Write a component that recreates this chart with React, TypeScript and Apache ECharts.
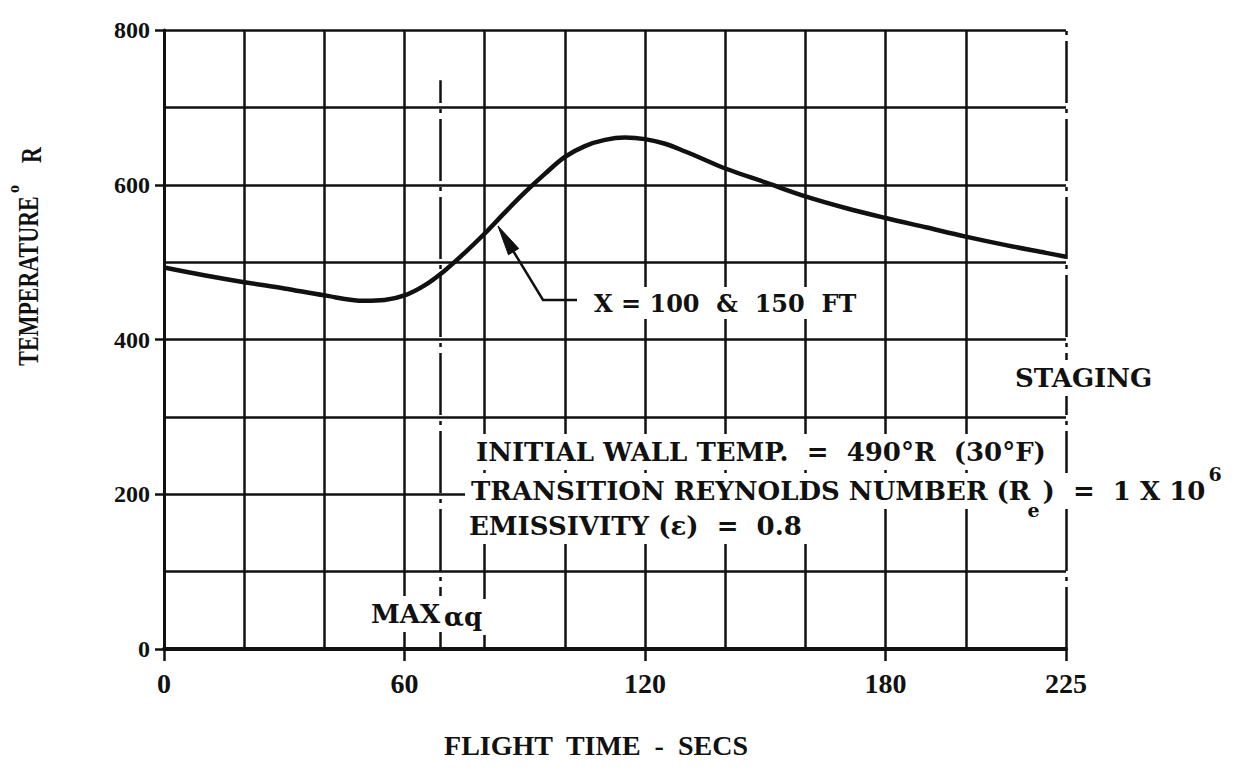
import React, { useEffect, useRef } from "react";
import * as echarts from "echarts";

// Flight time (s) and wall temperature (°R)
const timeSec = [0, 10, 20, 30, 40, 50, 55, 60, 65, 70, 75, 80, 85, 90, 95, 100, 105, 110, 115, 120, 125, 130, 135, 140, 150, 160, 170, 180, 190, 200, 210, 220, 225];
const tempR = [493, 483, 474, 466, 457, 450, 451, 457, 470, 489, 512, 537, 564, 590, 614, 636, 650, 658, 661, 659, 653, 643, 632, 621, 603, 585, 570, 557, 545, 533, 522, 512, 507];

// Axis tick labels
const xTickLabels = [0, 60, 120, 180, 225];
const yTickLabels = [0, 200, 400, 600, 800];

// Vertical grid lines drawn every 20 s from 0 to 200 (none at 220)
const xGridTimes = [0, 20, 40, 60, 80, 100, 120, 140, 160, 180, 200, 220];
const xGridShown = [true, true, true, true, true, true, true, true, true, true, true, false];

// Event lines: MAX αq and STAGING (time, top of line in °R)
const eventTimes = [69, 225];
const eventTops = [735, 800];

const INK = "#111";
const AX_FONT = "'Liberation Serif', 'Times New Roman', serif";
const NOTE_FONT = "'DejaVu Serif', serif";

function measure(text: string, size: number) {
  const c = document.createElement("canvas").getContext("2d");
  if (!c) return text.length * size * 0.7;
  c.font = `bold ${size}px 'DejaVu Serif'`;
  return c.measureText(text).width;
}

export default function App() {
  const ref = useRef<HTMLDivElement>(null);

  useEffect(() => {
    if (!ref.current) return;
    const chart = echarts.init(ref.current, null, { renderer: "svg" });

    const note = (text: string, x: number, y: number, size = 26, extra: any = {}) => ({
      type: "text",
      x,
      y,
      z: 10,
      silent: true,
      style: {
        text,
        fill: INK,
        font: `bold ${size}px ${NOTE_FONT}`,
        align: "left",
        verticalAlign: "middle",
        backgroundColor: "#fff",
        padding: [5, 6],
        ...extra,
      },
    });

    // Line 2 of the note block, with subscript / superscript pieces
    const l2x = 465;
    const p1 = "TRANSITION REYNOLDS NUMBER (R";
    const w1 = measure(p1, 26);
    const we = measure("e", 19);
    const p3 = ")  =  1 X 10";
    const w3 = measure(p3, 26);
    const eX = l2x + w1 + 3;
    const p3X = eX + we + 3;

    // Arrow from the "X = 100 & 150 FT" label to the curve
    const tip = [498, 226];
    const elbow = [543, 300];
    const dx = tip[0] - elbow[0];
    const dy = tip[1] - elbow[1];
    const len = Math.hypot(dx, dy);
    const ux = dx / len;
    const uy = dy / len;
    const headLen = 30;
    const headW = 6;
    const bx = tip[0] - ux * headLen;
    const by = tip[1] - uy * headLen;
    const px = -uy;
    const py = ux;

    const graphic: any[] = [
      // Y-axis title
      {
        type: "text", x: 28, y: 281, rotation: Math.PI / 2, scaleY: 1.3, silent: true,
        style: { text: "TEMPERATURE", fill: INK, font: `bold 22px ${AX_FONT}`, align: "center", verticalAlign: "middle" },
      },
      {
        type: "text", x: 13, y: 189, rotation: Math.PI / 2, silent: true,
        style: { text: "o", fill: INK, font: `bold 16px ${AX_FONT}`, align: "center", verticalAlign: "middle" },
      },
      {
        type: "text", x: 31, y: 155, rotation: Math.PI / 2, scaleY: 1.3, silent: true,
        style: { text: "R", fill: INK, font: `bold 22px ${AX_FONT}`, align: "center", verticalAlign: "middle" },
      },
      // X-axis title
      {
        type: "text", x: 596, y: 745, silent: true,
        style: { text: "FLIGHT  TIME  -  SECS", fill: INK, font: `bold 28px ${AX_FONT}`, align: "center", verticalAlign: "middle" },
      },
      // Curve label with leader and arrow
      {
        type: "polyline", z: 11, silent: true,
        shape: { points: [[577, 300], elbow, [bx, by]] },
        style: { stroke: INK, lineWidth: 2.5, fill: null },
      },
      {
        type: "polygon", z: 11, silent: true,
        shape: { points: [tip, [bx + px * headW, by + py * headW], [bx - px * headW, by - py * headW]] },
        style: { fill: INK, stroke: INK, lineWidth: 1 },
      },
      note("X = 100  &  150  FT", 588, 303, 24, { padding: [4, 6] }),
      // Event labels
      note("STAGING", 1009, 378, 26),
      note("MAX", 365, 614, 26),
      note("\u03b1q", 442, 617, 26, { padding: [4, 4, 6, 2] }),
      // Notes block
      note("INITIAL WALL TEMP.  =  490\u00b0R  (30\u00b0F)", 470, 452, 26),
      {
        type: "rect", z: 9, silent: true,
        shape: { x: l2x + w1 - 1, y: 472, width: p3X - (l2x + w1 - 1) + 1, height: 42 },
        style: { fill: "#fff", stroke: null },
      },
      note(p1, l2x, 491, 26, { padding: [5, 0, 5, 6] }),
      {
        type: "text", x: eX, y: 510, z: 11, silent: true,
        style: { text: "e", fill: INK, font: `bold 19px ${NOTE_FONT}`, align: "left", verticalAlign: "middle" },
      },
      note(p3, p3X, 491, 26, { padding: [5, 6, 5, 0] }),
      {
        type: "text", x: p3X + w3 + 3, y: 474, z: 11, silent: true,
        style: { text: "6", fill: INK, font: `bold 19px ${NOTE_FONT}`, align: "left", verticalAlign: "middle" },
      },
      note("EMISSIVITY (\u03b5)  =  0.8", 463, 526, 26),
    ];

    const option: any = {
      animation: false,
      backgroundColor: "#fff",
      grid: { left: 164, right: 168, top: 30, bottom: 128, containLabel: false, outerBoundsMode: "none" },
      xAxis: [
        {
          type: "value", min: 0, max: 225, interval: 20, position: "bottom",
          axisLine: { show: true, onZero: false, lineStyle: { color: INK, width: 4 } },
          axisTick: { show: false },
          axisLabel: { show: false },
          splitLine: {
            show: true,
            showMaxLine: false,
            lineStyle: {
              color: xGridTimes.map((_, i) => (xGridShown[i] ? INK : "rgba(0,0,0,0)")),
              width: 2.5,
              type: "solid",
            },
          },
        },
        {
          type: "value", min: 0, max: 225, interval: 60, position: "bottom",
          axisLine: { show: false, onZero: false },
          axisTick: { show: true, length: 12, lineStyle: { color: INK, width: 2.5 } },
          axisLabel: {
            show: true, margin: 20, color: INK, fontFamily: AX_FONT, fontWeight: "bold", fontSize: 28,
            showMinLabel: true, showMaxLabel: true,
            formatter: (v: number) => (xTickLabels.includes(v) ? String(v) : ""),
          },
          splitLine: { show: false },
        },
      ],
      yAxis: [
        {
          type: "value", min: 0, max: 800, interval: 100, position: "left",
          axisLine: { show: true, onZero: false, lineStyle: { color: INK, width: 3 } },
          axisTick: { show: false },
          axisLabel: { show: false },
          splitLine: { show: true, lineStyle: { color: INK, width: 2.5, type: "solid" } },
        },
        {
          type: "value", min: 0, max: 800, interval: 200, position: "left",
          axisLine: { show: false, onZero: false },
          axisTick: { show: true, length: 9, lineStyle: { color: INK, width: 2.5 } },
          axisLabel: {
            show: true, margin: 14, color: INK, fontFamily: AX_FONT, fontWeight: "bold", fontSize: 24,
            formatter: (v: number) => (yTickLabels.includes(v) ? String(v) : ""),
          },
          splitLine: { show: false },
        },
      ],
      series: [
        {
          type: "line",
          xAxisIndex: 0,
          yAxisIndex: 0,
          data: timeSec.map((t, i) => [t, tempR[i]]),
          smooth: 0.35,
          symbol: "none",
          silent: true,
          lineStyle: { color: INK, width: 4.5 },
          z: 5,
          markLine: {
            silent: true,
            symbol: ["none", "none"],
            label: { show: false },
            lineStyle: { color: INK, width: 2.5, type: [62, 6, 4, 6] },
            data: eventTimes.map((t, i) => [{ coord: [t, 0] }, { coord: [t, eventTops[i]] }]),
          },
        },
      ],
      graphic,
    };

    chart.setOption(option);
    return () => chart.dispose();
  }, []);

  return (
    <div
      ref={ref}
      style={{ position: "absolute", left: 0, top: 0, width: 1234, height: 777, background: "#fff" }}
    />
  );
}
